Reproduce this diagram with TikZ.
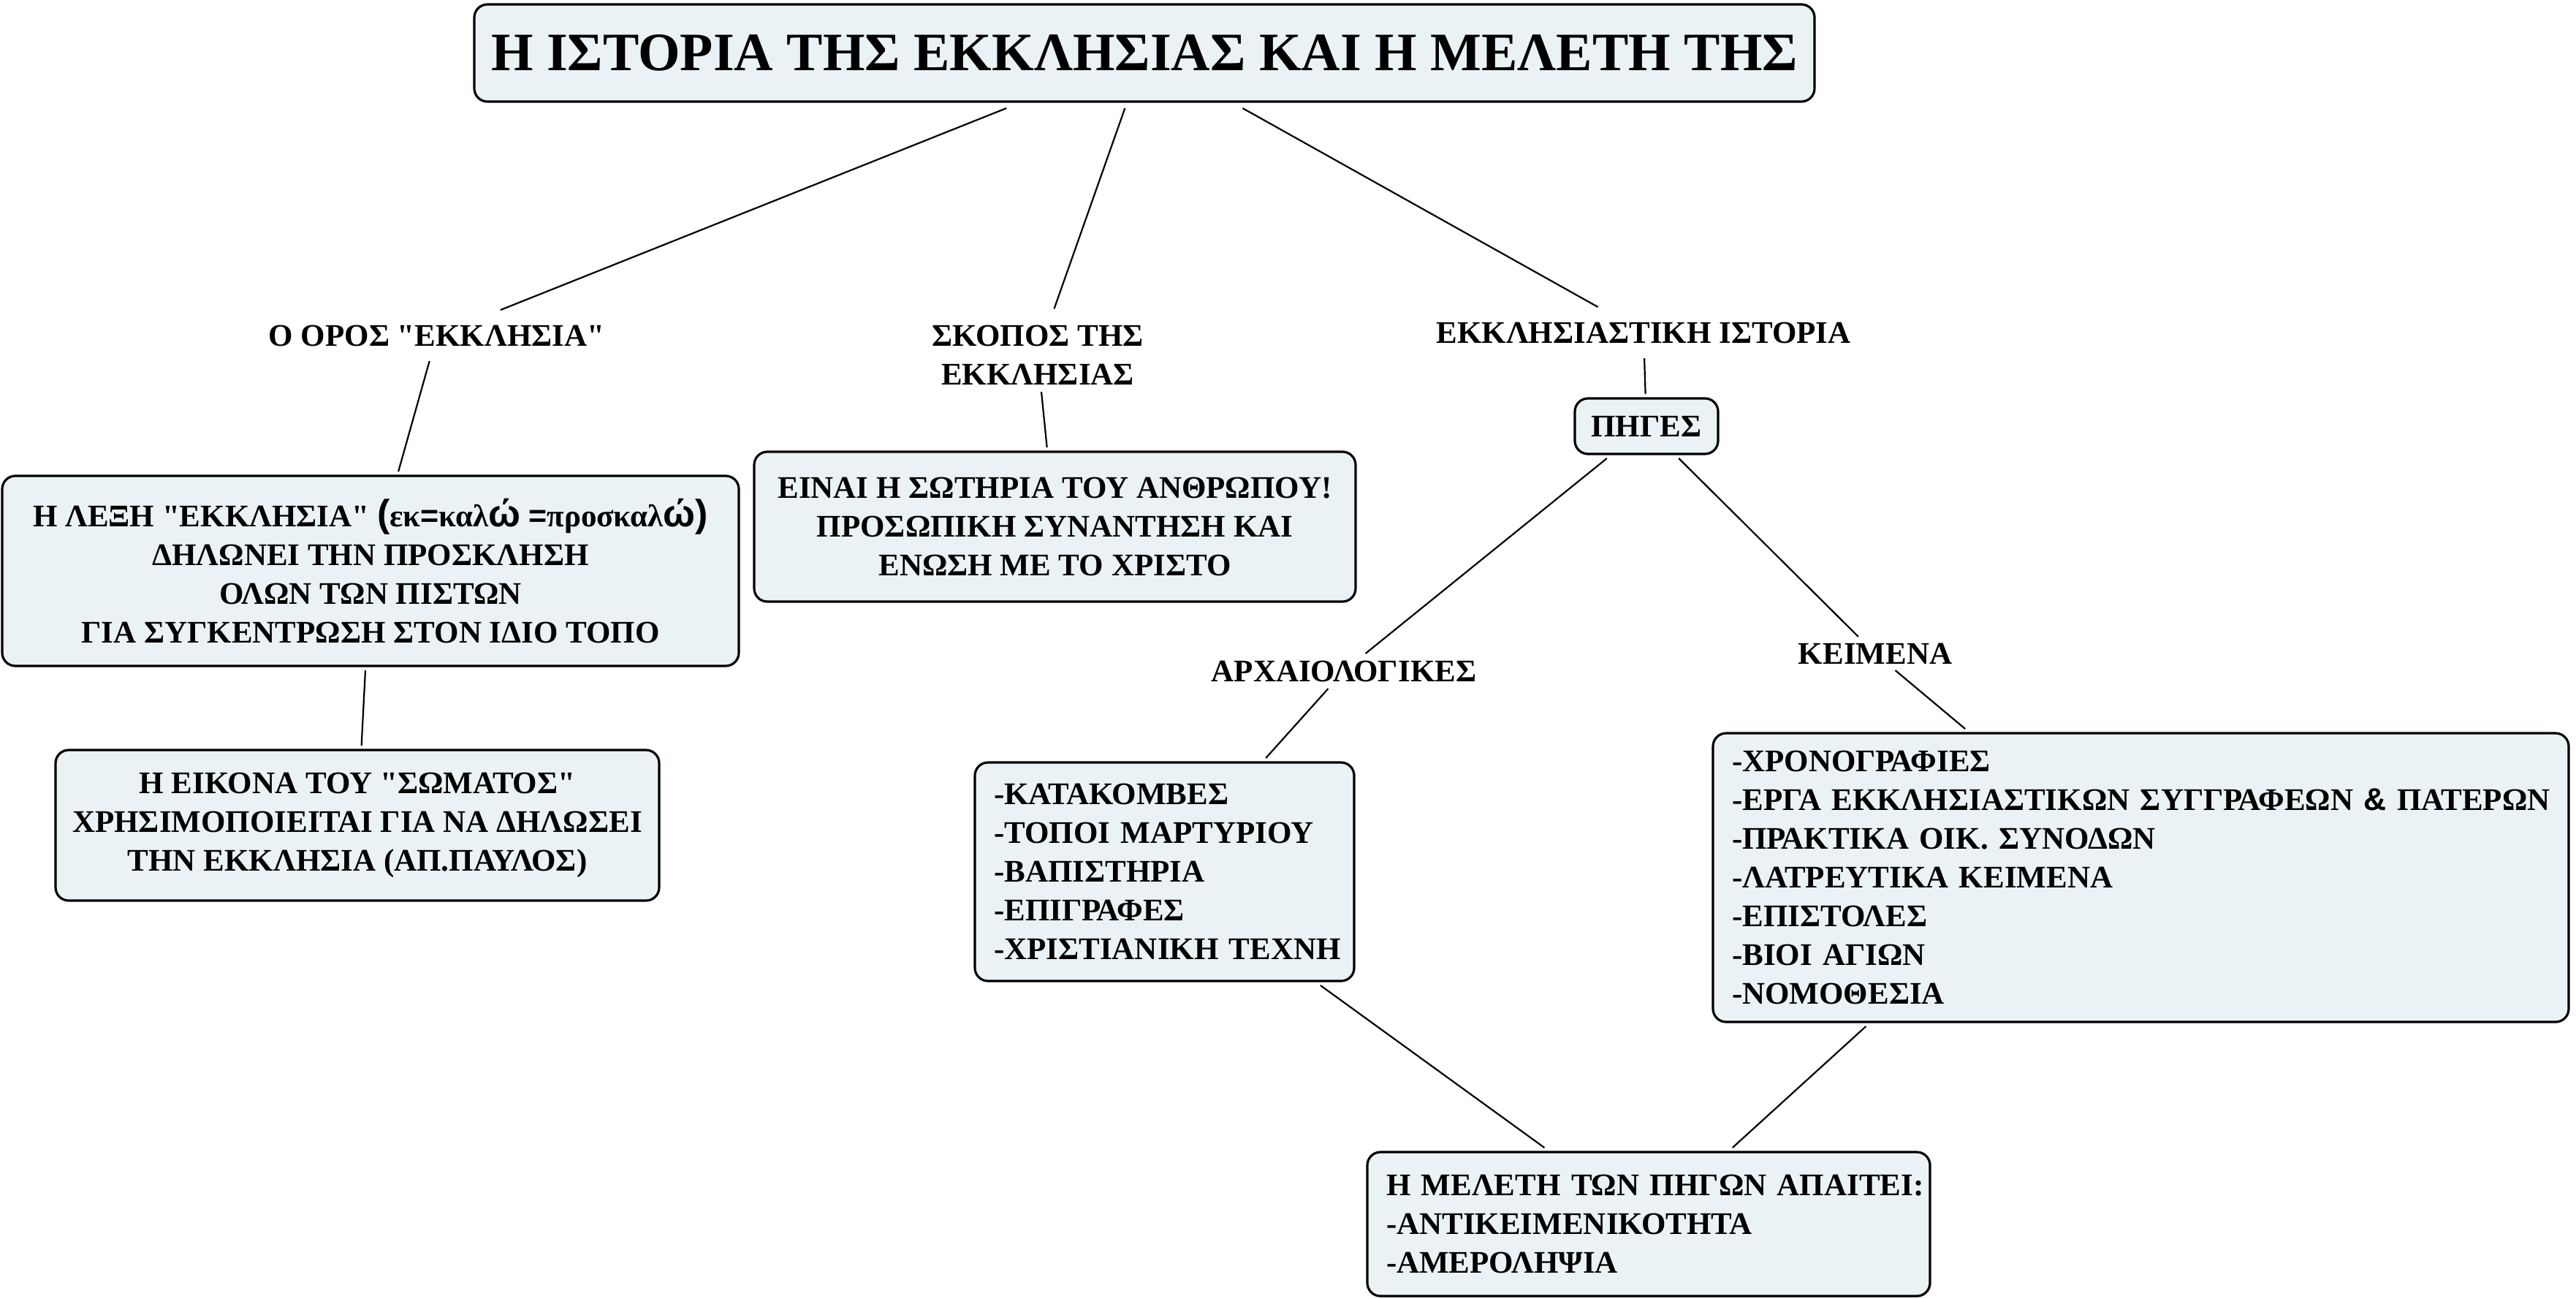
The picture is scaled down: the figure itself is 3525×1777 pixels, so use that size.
\documentclass[tikz,border=0pt]{standalone}
\usepackage{fontspec}
\setmainfont{Liberation Serif}[Ligatures=TeXOff]
\newfontfamily\sansbold{Liberation Sans}[Ligatures=TeXOff]
\usetikzlibrary{calc}
\definecolor{boxfill}{RGB}{234,242,245}
\newcommand\sym[1]{{\sansbold\bfseries #1}}
\newcommand\bigsym[1]{{\sansbold\bfseries\fontsize{52}{53}\selectfont #1}}
\tikzset{
  every node/.style={font=\bfseries\fontsize{43}{53}\selectfont},
  box/.style={draw=black, line width=3.2pt, fill=boxfill, rounded corners=18pt, inner sep=0pt, outer sep=6pt, align=center},
  lbox/.style={box, align=left, inner xsep=26pt, inner ysep=0pt},
  lbl/.style={inner sep=0pt, text height=28pt, text depth=0pt, outer xsep=0pt},
  conn/.style={line width=2.2pt},
}
\begin{document}
\begin{tikzpicture}[x=1pt,y=-1pt]
\fill[white] (0,0) rectangle (3525,1777);
\useasboundingbox (0,0) rectangle (3525,1777);

\node[box, minimum width=1834pt, minimum height=133pt, outer sep=9pt, font=\bfseries\fontsize{74}{88}\selectfont] (title) at (1566,72.5) {Η ΙΣΤΟΡΙΑ ΤΗΣ ΕΚΚΛΗΣΙΑΣ ΚΑΙ Η ΜΕΛΕΤΗ ΤΗΣ};

\node[lbl, outer ysep=21pt, anchor=base] (oros) at (597.5,473) {Ο ΟΡΟΣ "ΕΚΚΛΗΣΙΑ"};
\node[inner sep=0pt, outer xsep=0pt, outer ysep=9pt, align=center, anchor=north] (skopos) at (1420,436.5) {ΣΚΟΠΟΣ ΤΗΣ\\ΕΚΚΛΗΣΙΑΣ};
\node[lbl, outer ysep=21pt, anchor=base] (ekkl) at (2249,469) {ΕΚΚΛΗΣΙΑΣΤΙΚΗ ΙΣΤΟΡΙΑ};

\node[box, minimum width=1008pt, minimum height=260pt] (leksi) at (507,781)
  {Η ΛΕΞΗ "ΕΚΚΛΗΣΙΑ" \bigsym{(}εκ\sym{=}καλ\bigsym{ώ} \sym{=}προσκαλ\bigsym{ώ}\bigsym{)}\\ΔΗΛΩΝΕΙ ΤΗΝ ΠΡΟΣΚΛΗΣΗ\\ΟΛΩΝ ΤΩΝ ΠΙΣΤΩΝ\\ΓΙΑ ΣΥΓΚΕΝΤΡΩΣΗ ΣΤΟΝ ΙΔΙΟ ΤΟΠΟ};
\node[box, minimum width=826pt, minimum height=206pt] (soma) at (489,1129)
  {Η ΕΙΚΟΝΑ ΤΟΥ "ΣΩΜΑΤΟΣ"\\ΧΡΗΣΙΜΟΠΟΙΕΙΤΑΙ ΓΙΑ ΝΑ ΔΗΛΩΣΕΙ\\ΤΗΝ ΕΚΚΛΗΣΙΑ (ΑΠ.ΠΑΥΛΟΣ)};
\node[box, minimum width=823pt, minimum height=205pt] (soteria) at (1443.5,720.5)
  {ΕΙΝΑΙ Η ΣΩΤΗΡΙΑ ΤΟΥ ΑΝΘΡΩΠΟΥ!\\ΠΡΟΣΩΠΙΚΗ ΣΥΝΑΝΤΗΣΗ ΚΑΙ\\ΕΝΩΣΗ ΜΕ ΤΟ ΧΡΙΣΤΟ};
\node[box, minimum width=196pt, minimum height=76pt] (piges) at (2253,583) {ΠΗΓΕΣ};

\node[lbl, outer ysep=10pt, anchor=base] (archl) at (1839,932) {ΑΡΧΑΙΟΛΟΓΙΚΕΣ};
\node[lbl, outer ysep=9pt, anchor=base] (keiml) at (2566,908) {ΚΕΙΜΕΝΑ};

\node[lbox, text width=467pt, minimum height=299pt] (arch) at (1593.5,1192.5)
  {\mbox{-ΚΑΤΑΚΟΜΒΕΣ}\\\mbox{-ΤΟΠΟΙ ΜΑΡΤΥΡΙΟΥ}\\\mbox{-ΒΑΠΙΣΤΗΡΙΑ}\\\mbox{-ΕΠΙΓΡΑΦΕΣ}\\\mbox{-ΧΡΙΣΤΙΑΝΙΚΗ ΤΕΧΝΗ}};
\node[lbox, text width=1119pt, minimum height=395pt] (keim) at (2929.5,1200.5)
  {\mbox{-ΧΡΟΝΟΓΡΑΦΙΕΣ}\\\mbox{-ΕΡΓΑ ΕΚΚΛΗΣΙΑΣΤΙΚΩΝ ΣΥΓΓΡΑΦΕΩΝ \sym{\&} ΠΑΤΕΡΩΝ}\\\mbox{-ΠΡΑΚΤΙΚΑ ΟΙΚ. ΣΥΝΟΔΩΝ}\\\mbox{-ΛΑΤΡΕΥΤΙΚΑ ΚΕΙΜΕΝΑ}\\\mbox{-ΕΠΙΣΤΟΛΕΣ}\\\mbox{-ΒΙΟΙ ΑΓΙΩΝ}\\\mbox{-ΝΟΜΟΘΕΣΙΑ}};
\node[lbox, text width=718pt, minimum height=197pt] (meleti) at (2256,1674.5)
  {\mbox{Η ΜΕΛΕΤΗ ΤΩΝ ΠΗΓΩΝ ΑΠΑΙΤΕΙ:}\\\mbox{-ΑΝΤΙΚΕΙΜΕΝΙΚΟΤΗΤΑ}\\\mbox{-ΑΜΕΡΟΛΗΨΙΑ}};

\draw[conn] (title) -- (oros);
\draw[conn, shorten >=15pt] (title) -- (skopos);
\draw[conn] (title) -- (ekkl);
\draw[conn] (oros) -- (leksi);
\draw[conn] (leksi) -- (soma);
\draw[conn] (skopos) -- (soteria);
\draw[conn] (ekkl) -- (piges);
\draw[conn] (piges) -- (archl);
\draw[conn] (archl) -- (arch);
\draw[conn] (piges) -- (keiml);
\draw[conn] (keiml) -- (keim);
\draw[conn] (arch) -- (meleti);
\coordinate (kbout) at ($(keim.south west)!0.182!(keim.south east)$);
\draw[conn] (kbout) -- (meleti);
\end{tikzpicture}
\end{document}
